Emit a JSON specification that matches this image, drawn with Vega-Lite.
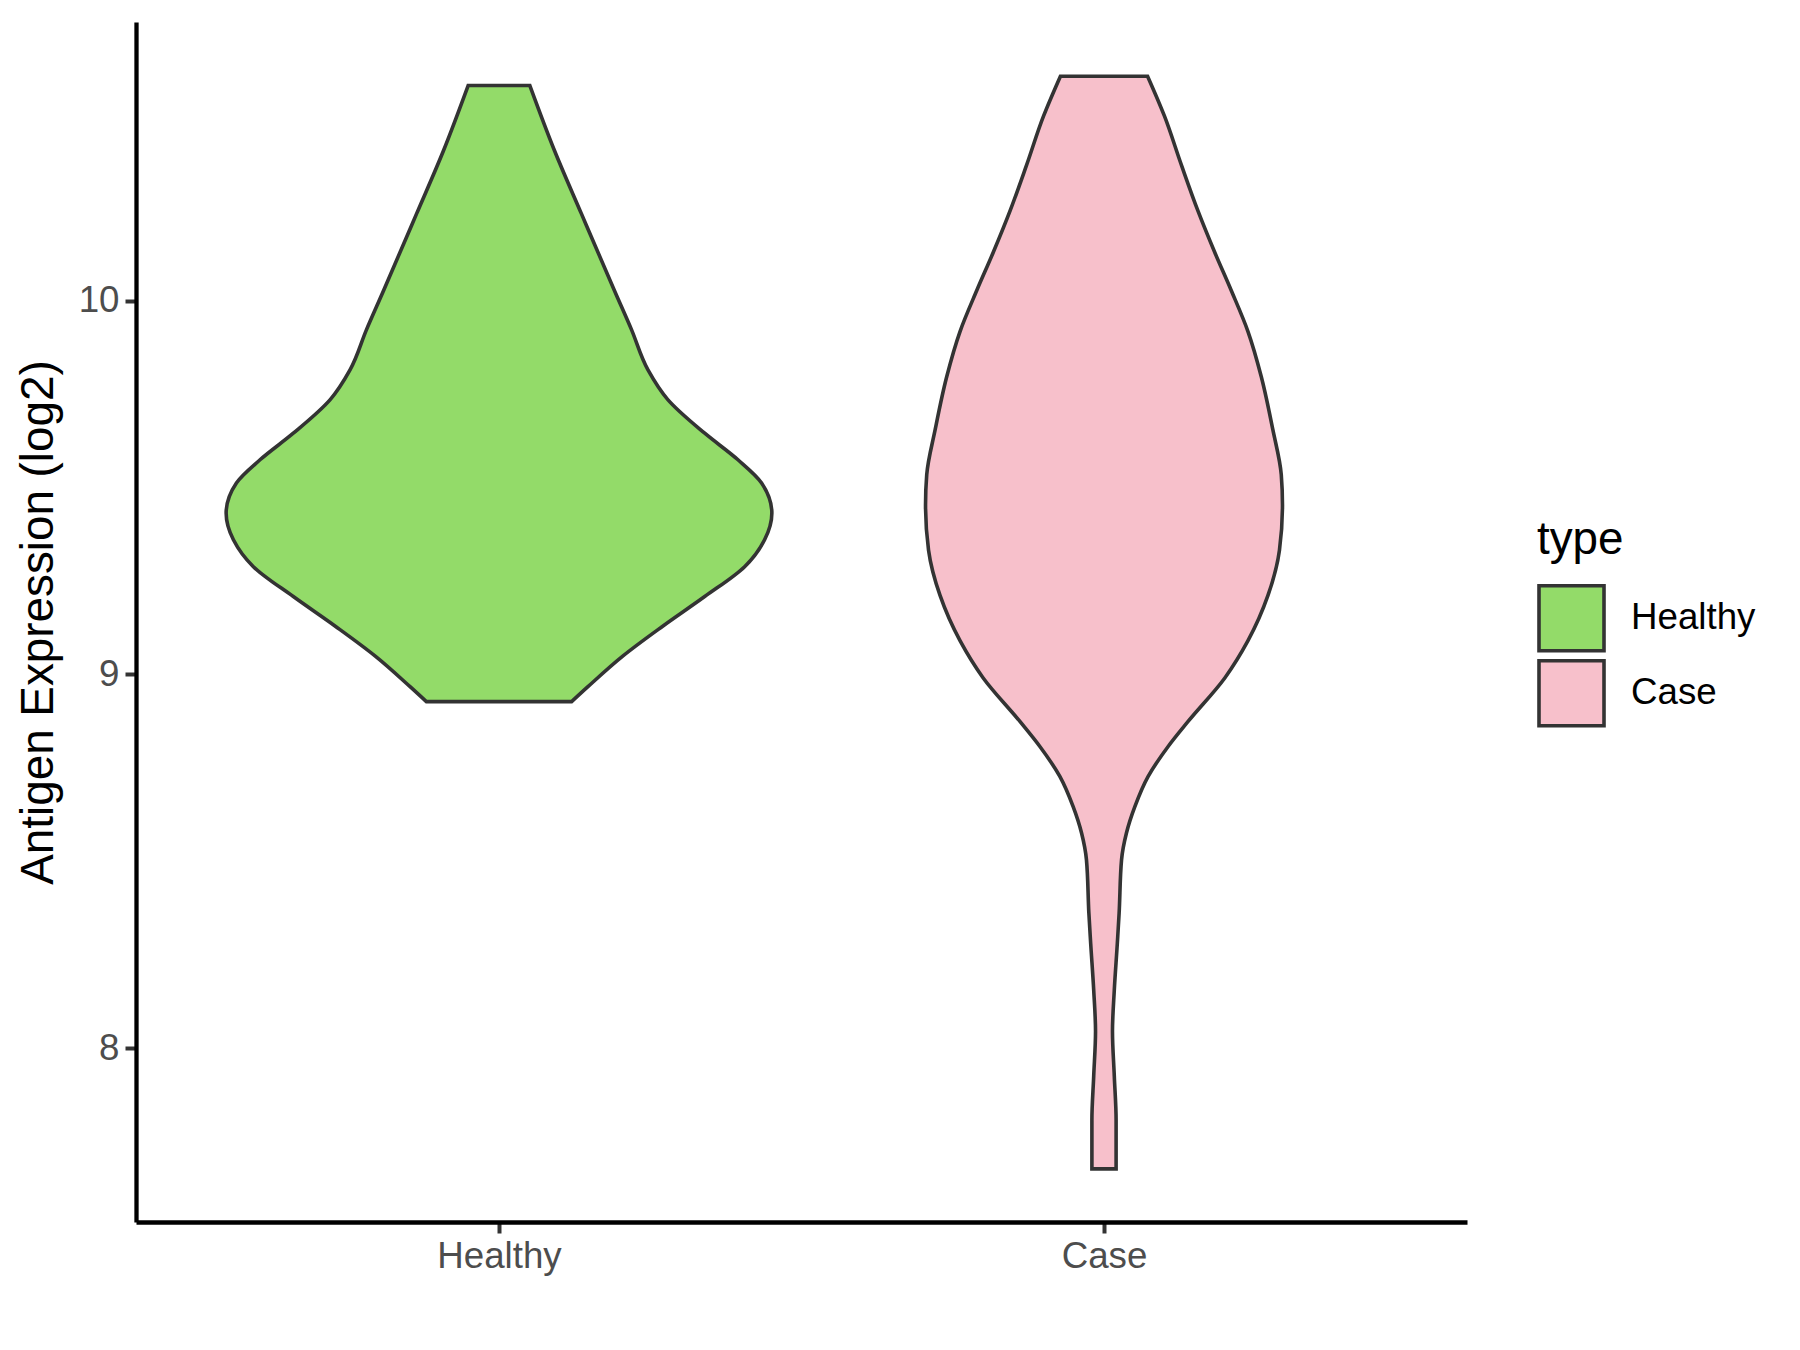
{
  "$schema": "https://vega.github.io/schema/vega-lite/v6.json",
  "width": 1331,
  "height": 1200,
  "autosize": {"type": "none"},
  "padding": {"left": 136, "top": 22, "right": 333, "bottom": 128},
  "background": "white",
  "config": {"view": {"stroke": null}, "font": "Liberation Sans"},
  "data": {
    "values": [
      {"type": "Healthy", "value": 8.927, "lo": 0.880, "hi": 1.120},
      {"type": "Healthy", "value": 8.967, "lo": 0.853, "hi": 1.147},
      {"type": "Healthy", "value": 9.048, "lo": 0.796, "hi": 1.204},
      {"type": "Healthy", "value": 9.128, "lo": 0.730, "hi": 1.270},
      {"type": "Healthy", "value": 9.208, "lo": 0.660, "hi": 1.340},
      {"type": "Healthy", "value": 9.288, "lo": 0.594, "hi": 1.406},
      {"type": "Healthy", "value": 9.360, "lo": 0.561, "hi": 1.439},
      {"type": "Healthy", "value": 9.431, "lo": 0.549, "hi": 1.451},
      {"type": "Healthy", "value": 9.512, "lo": 0.566, "hi": 1.434},
      {"type": "Healthy", "value": 9.574, "lo": 0.605, "hi": 1.395},
      {"type": "Healthy", "value": 9.645, "lo": 0.660, "hi": 1.340},
      {"type": "Healthy", "value": 9.735, "lo": 0.721, "hi": 1.279},
      {"type": "Healthy", "value": 9.815, "lo": 0.754, "hi": 1.246},
      {"type": "Healthy", "value": 9.922, "lo": 0.781, "hi": 1.219},
      {"type": "Healthy", "value": 10.022, "lo": 0.808, "hi": 1.192},
      {"type": "Healthy", "value": 10.233, "lo": 0.864, "hi": 1.136},
      {"type": "Healthy", "value": 10.400, "lo": 0.908, "hi": 1.092},
      {"type": "Healthy", "value": 10.575, "lo": 0.949, "hi": 1.051},
      {"type": "Case", "value": 7.677, "lo": 1.980, "hi": 2.020},
      {"type": "Case", "value": 7.807, "lo": 1.980, "hi": 2.020},
      {"type": "Case", "value": 7.926, "lo": 1.983, "hi": 2.017},
      {"type": "Case", "value": 8.045, "lo": 1.986, "hi": 2.014},
      {"type": "Case", "value": 8.155, "lo": 1.983, "hi": 2.017},
      {"type": "Case", "value": 8.280, "lo": 1.978, "hi": 2.022},
      {"type": "Case", "value": 8.361, "lo": 1.975, "hi": 2.025},
      {"type": "Case", "value": 8.504, "lo": 1.971, "hi": 2.029},
      {"type": "Case", "value": 8.575, "lo": 1.963, "hi": 2.037},
      {"type": "Case", "value": 8.646, "lo": 1.949, "hi": 2.051},
      {"type": "Case", "value": 8.727, "lo": 1.927, "hi": 2.073},
      {"type": "Case", "value": 8.807, "lo": 1.894, "hi": 2.106},
      {"type": "Case", "value": 8.874, "lo": 1.861, "hi": 2.139},
      {"type": "Case", "value": 8.991, "lo": 1.800, "hi": 2.200},
      {"type": "Case", "value": 9.090, "lo": 1.762, "hi": 2.238},
      {"type": "Case", "value": 9.211, "lo": 1.729, "hi": 2.271},
      {"type": "Case", "value": 9.332, "lo": 1.710, "hi": 2.290},
      {"type": "Case", "value": 9.453, "lo": 1.705, "hi": 2.295},
      {"type": "Case", "value": 9.534, "lo": 1.707, "hi": 2.293},
      {"type": "Case", "value": 9.655, "lo": 1.721, "hi": 2.279},
      {"type": "Case", "value": 9.796, "lo": 1.740, "hi": 2.260},
      {"type": "Case", "value": 9.917, "lo": 1.762, "hi": 2.238},
      {"type": "Case", "value": 10.028, "lo": 1.790, "hi": 2.210},
      {"type": "Case", "value": 10.129, "lo": 1.817, "hi": 2.183},
      {"type": "Case", "value": 10.241, "lo": 1.845, "hi": 2.155},
      {"type": "Case", "value": 10.362, "lo": 1.872, "hi": 2.128},
      {"type": "Case", "value": 10.493, "lo": 1.900, "hi": 2.100},
      {"type": "Case", "value": 10.600, "lo": 1.928, "hi": 2.072}
    ]
  },
  "mark": {"type": "area", "orient": "horizontal", "interpolate": "monotone", "stroke": "#333333", "strokeWidth": 3.6, "strokeJoin": "miter"},
  "encoding": {
    "y": {
      "field": "value", "type": "quantitative",
      "scale": {"domain": [7.535, 10.745], "nice": false, "zero": false},
      "axis": {
        "values": [8, 9, 10], "grid": false, "title": "Antigen Expression (log2)",
        "titleFontSize": 45.8, "titleFontWeight": "normal", "titleColor": "#000000", "titleFont": "Liberation Sans",
        "titlePadding": 16,
        "labelFontSize": 36.7, "labelColor": "#4D4D4D", "labelFont": "Liberation Sans", "labelPadding": 6,
        "tickSize": 11, "tickWidth": 4, "tickColor": "#333333",
        "domainColor": "#000000", "domainWidth": 4.3
      }
    },
    "x": {
      "field": "lo", "type": "quantitative",
      "scale": {"domain": [0.4, 2.6], "nice": false, "zero": false},
      "axis": {
        "values": [1, 2], "labelExpr": "datum.value == 1 ? 'Healthy' : 'Case'", "grid": false, "title": null,
        "labelFontSize": 36.7, "labelColor": "#4D4D4D", "labelFont": "Liberation Sans", "labelPadding": 5,
        "tickSize": 11, "tickWidth": 4, "tickColor": "#333333",
        "domainColor": "#000000", "domainWidth": 4.3
      }
    },
    "x2": {"field": "hi"},
    "fill": {
      "field": "type", "type": "nominal",
      "scale": {"domain": ["Healthy", "Case"], "range": ["#93DB69", "#F7C0CB"]},
      "legend": {
        "orient": "none", "legendX": 1401, "legendY": 496, "padding": 0,
        "title": "type", "titleFontSize": 45.8, "titleFontWeight": "normal", "titleColor": "#000000", "titleFont": "Liberation Sans",
        "titlePadding": 20,
        "labelFontSize": 36.7, "labelColor": "#000000", "labelFont": "Liberation Sans", "labelOffset": 25,
        "symbolType": "square", "symbolSize": 4225, "symbolStrokeColor": "#333333", "symbolStrokeWidth": 3.6,
        "symbolOpacity": 1, "rowPadding": -10.5
      }
    }
  }
}
